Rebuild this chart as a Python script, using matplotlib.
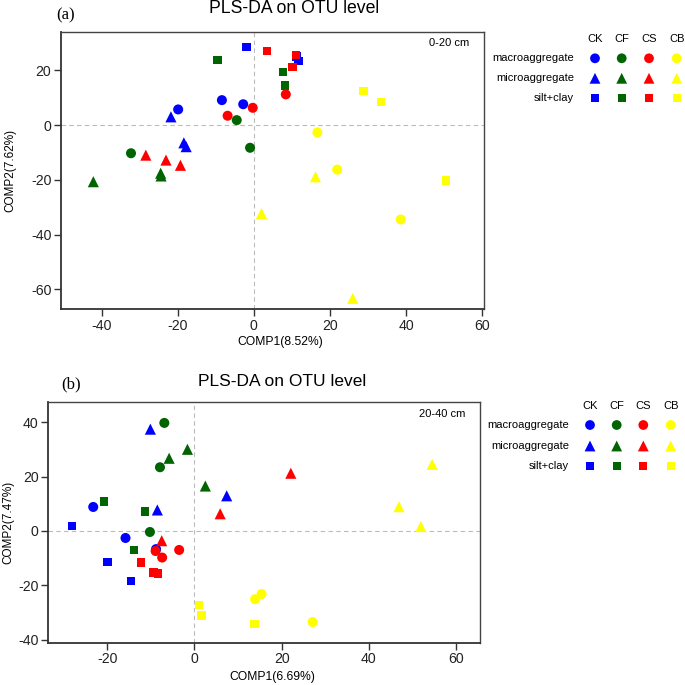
import matplotlib
matplotlib.use("Agg")
import matplotlib.pyplot as plt

plt.rcParams['font.family'] = ['Liberation Sans', 'DejaVu Sans']
plt.rcParams['axes.unicode_minus'] = False

treatments = ["CK", "CF", "CS", "CB"]
fractions = ["macroaggregate", "microaggregate", "silt+clay"]
colors = {"CK": "#0000FF", "CF": "#006400", "CS": "#FF0000", "CB": "#FFFF00"}
markers = {"macroaggregate": "o", "microaggregate": "^", "silt+clay": "s"}
msizes = {"macroaggregate": 52, "microaggregate": 64, "silt+clay": 36}

# Panel (a) 0-20 cm : (COMP1, COMP2)
a_CK_macro = [(-8.4, 9.1), (-2.8, 7.6), (-19.9, 5.7)]
a_CK_micro = [(-21.8, 3.0), (-18.4, -6.5), (-17.8, -7.9)]
a_CK_silt = [(-1.9, 28.6), (11.2, 25.0), (11.7, 23.5)]
a_CF_macro = [(-4.5, 1.8), (-1.0, -8.3), (-32.3, -10.3)]
a_CF_micro = [(-24.5, -17.6), (-24.4, -18.6), (-42.2, -20.7)]
a_CF_silt = [(-9.6, 23.7), (7.7, 19.3), (8.2, 14.4)]
a_CS_macro = [(-6.9, 3.4), (-0.3, 6.3), (8.4, 11.2)]
a_CS_micro = [(-28.4, -11.0), (-23.1, -12.8), (-19.3, -14.7)]
a_CS_silt = [(3.4, 27.0), (11.0, 25.5), (10.2, 21.2)]
a_CB_macro = [(16.7, -2.7), (21.9, -16.3), (38.6, -34.5)]
a_CB_micro = [(16.2, -18.9), (2.0, -32.3), (26.0, -63.3)]
a_CB_silt = [(28.8, 12.5), (33.4, 8.3), (50.5, -20.3)]

# Panel (b) 20-40 cm
b_CK_macro = [(-23.2, 8.8), (-15.8, -2.6), (-8.8, -6.7)]
b_CK_micro = [(-10.1, 37.4), (7.4, 12.9), (-8.5, 7.7)]
b_CK_silt = [(-28.0, 1.8), (-19.9, -11.4), (-14.6, -18.3)]
b_CF_macro = [(-6.9, 39.7), (-7.9, 23.4), (-10.2, -0.4)]
b_CF_micro = [(-1.6, 30.0), (-5.8, 26.7), (2.5, 16.5)]
b_CF_silt = [(-20.8, 10.8), (-11.3, 7.1), (-13.9, -7.0)]
b_CS_macro = [(-8.9, -7.4), (-3.5, -7.0), (-7.4, -9.8)]
b_CS_micro = [(5.9, 6.3), (-7.5, -3.6), (22.1, 21.2)]
b_CS_silt = [(-12.2, -11.6), (-9.4, -15.3), (-8.3, -15.7)]
b_CB_macro = [(15.4, -23.2), (13.9, -25.1), (27.1, -33.5)]
b_CB_micro = [(46.9, 8.9), (51.9, 1.6), (54.5, 24.5)]
b_CB_silt = [(1.0, -27.3), (1.6, -31.1), (13.8, -34.3)]

panel_a = {
    ("CK", "macroaggregate"): a_CK_macro, ("CK", "microaggregate"): a_CK_micro, ("CK", "silt+clay"): a_CK_silt,
    ("CF", "macroaggregate"): a_CF_macro, ("CF", "microaggregate"): a_CF_micro, ("CF", "silt+clay"): a_CF_silt,
    ("CS", "macroaggregate"): a_CS_macro, ("CS", "microaggregate"): a_CS_micro, ("CS", "silt+clay"): a_CS_silt,
    ("CB", "macroaggregate"): a_CB_macro, ("CB", "microaggregate"): a_CB_micro, ("CB", "silt+clay"): a_CB_silt,
}
panel_b = {
    ("CK", "macroaggregate"): b_CK_macro, ("CK", "microaggregate"): b_CK_micro, ("CK", "silt+clay"): b_CK_silt,
    ("CF", "macroaggregate"): b_CF_macro, ("CF", "microaggregate"): b_CF_micro, ("CF", "silt+clay"): b_CF_silt,
    ("CS", "macroaggregate"): b_CS_macro, ("CS", "microaggregate"): b_CS_micro, ("CS", "silt+clay"): b_CS_silt,
    ("CB", "macroaggregate"): b_CB_macro, ("CB", "microaggregate"): b_CB_micro, ("CB", "silt+clay"): b_CB_silt,
}

W = H = 685
fig = plt.figure(figsize=(6.85, 6.85), dpi=100)


def px_rect(l, t, r, b):
    return [l / W, 1 - b / H, (r - l) / W, (b - t) / H]


def draw_panel(rect, data, xlim, ylim, xticks, yticks, depth, depth_xy):
    ax = fig.add_axes(rect)
    ax.set_xlim(*xlim)
    ax.set_ylim(*ylim)
    ax.axhline(0, color="#bbbbbb", lw=0.8, ls=(0, (4, 3)), zorder=0)
    ax.axvline(0, color="#bbbbbb", lw=0.8, ls=(0, (4, 3)), zorder=0)
    for (t, f), pts in data.items():
        xs = [p[0] for p in pts]
        ys = [p[1] for p in pts]
        ax.scatter(xs, ys, marker=markers[f], s=msizes[f], color=colors[t],
                   edgecolors="none", zorder=3)
    ax.set_xticks(xticks)
    ax.set_yticks(yticks)
    ax.tick_params(direction="out", length=5, width=1, color="#333333",
                   labelsize=10.2, pad=2, top=False, right=False, labelcolor="#222222")
    for s in ["left", "bottom"]:
        ax.spines[s].set_color("#333333")
        ax.spines[s].set_linewidth(1.3)
    for s in ["top", "right"]:
        ax.spines[s].set_color("#444444")
        ax.spines[s].set_linewidth(1.0)
    ax.text(depth_xy[0], depth_xy[1], depth, transform=ax.transAxes,
            ha="right", va="center", fontsize=8)
    return ax


ax1 = draw_panel(px_rect(61, 31.7, 484, 309), panel_a, (-50.7, 60.5), (-67.2, 34.1),
                 [-40, -20, 0, 20, 40, 60], [-60, -40, -20, 0, 20],
                 "0-20 cm", (0.9645, 0.959))
ax2 = draw_panel(px_rect(48.3, 401.7, 479.7, 642.7), panel_b, (-33.5, 65.4), (-41.1, 47.5),
                 [-20, 0, 20, 40, 60], [-40, -20, 0, 20, 40],
                 "20-40 cm", (0.966, 0.948))

# overlay in pixel coordinates for titles, axis labels and legends
ov = fig.add_axes([0, 0, 1, 1])
ov.set_xlim(0, W)
ov.set_ylim(H, 0)
ov.axis("off")

ov.text(294.5, 8.5, "PLS-DA on OTU level", ha="center", va="center", fontsize=12.7)
ov.text(282.5, 381.5, "PLS-DA on OTU level", ha="center", va="center", fontsize=12.5)
ov.text(66, 15, "(a)", ha="center", va="center", fontsize=12, family="Liberation Serif")
ov.text(71, 384, "(b)", ha="center", va="center", fontsize=12, family="Liberation Serif")

ov.text(280, 341.5, "COMP1(8.52%)", ha="center", va="center", fontsize=8.7)
ov.text(272, 677, "COMP1(6.69%)", ha="center", va="center", fontsize=8.7)
ov.text(10, 170, "COMP2(7.62%)", ha="center", va="center", fontsize=8.5, rotation=90)
ov.text(8, 522, "COMP2(7.47%)", ha="center", va="center", fontsize=8.5, rotation=90)


def legend(label_x, col_x, head_y, row_y):
    for t, cx in zip(treatments, col_x):
        ov.text(cx, head_y, t, ha="center", va="center", fontsize=8)
    for f, ry in zip(fractions, row_y):
        ov.text(label_x, ry, f, ha="right", va="center", fontsize=8)
        for t, cx in zip(treatments, col_x):
            ov.scatter([cx], [ry], marker=markers[f], s=msizes[f] * 0.95,
                       color=colors[t], edgecolors="none")


legend(574, [595, 621.7, 649, 676.7], 39, [58.3, 78.3, 97.7])
legend(569.3, [590, 616.7, 643.3, 670.7], 406, [425, 446, 466])

fig.savefig("out.png", dpi=100)
